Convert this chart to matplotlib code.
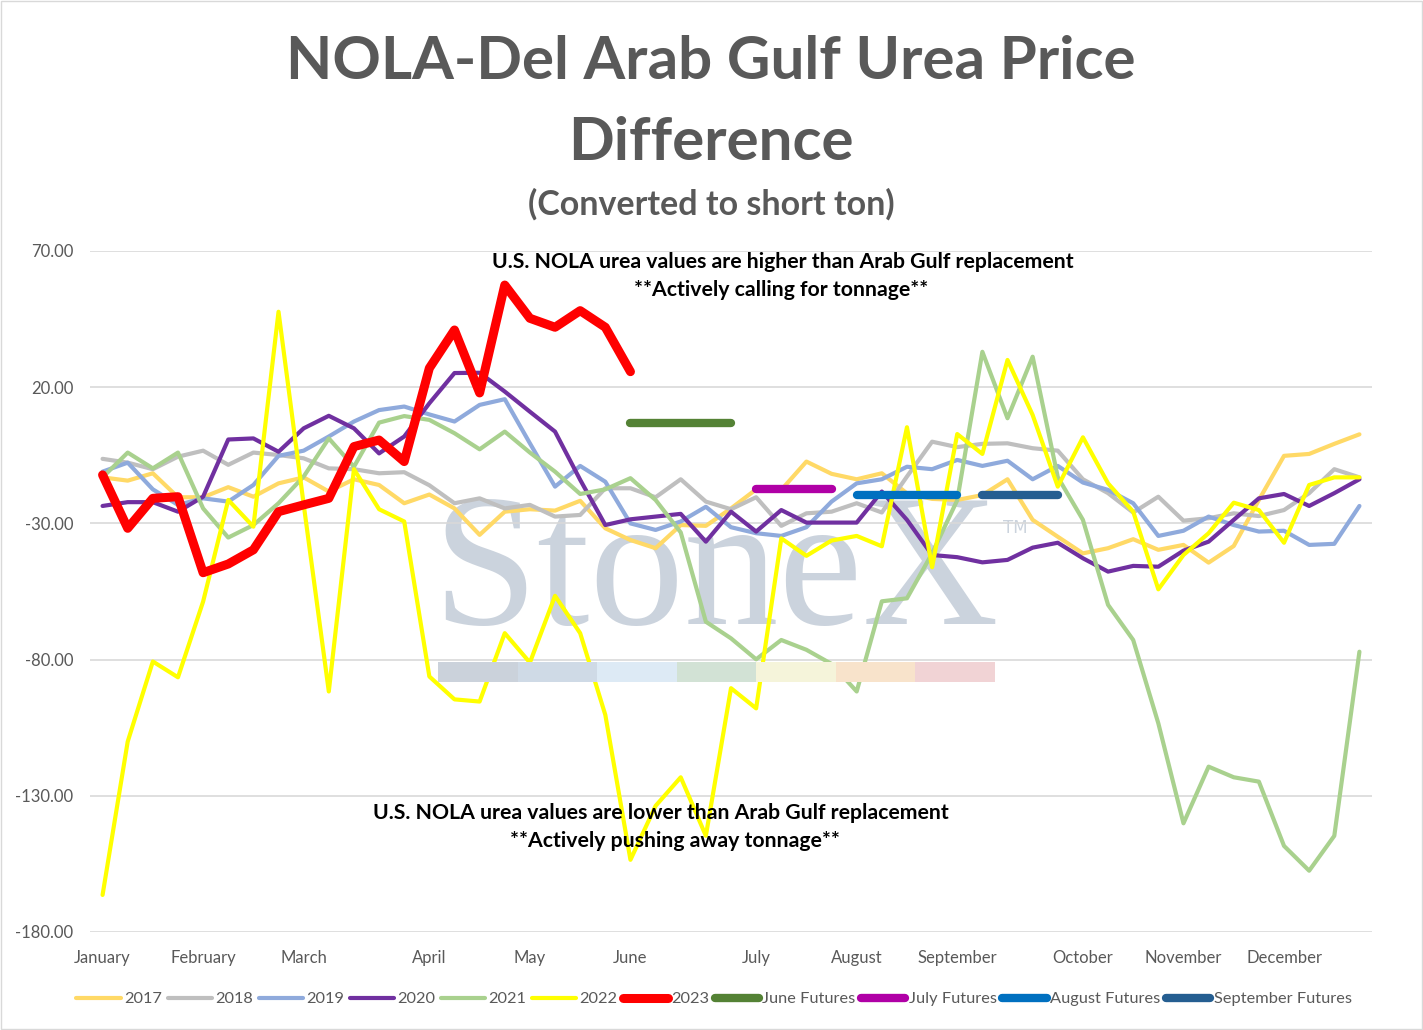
import matplotlib
matplotlib.use("Agg")
import matplotlib.pyplot as plt
from matplotlib.patches import Rectangle

W, H, DPI = 1423, 1030, 100
plt.rcParams['font.family'] = ['Lato', 'DejaVu Sans']

# ---------------- data ----------------
months = ["January", "February", "March", "April", "May", "June", "July",
          "August", "September", "October", "November", "December"]
month_weeks = [0, 4, 8, 13, 17, 21, 26, 30, 34, 39, 43, 47]
n_weeks = 51
y_ticks = [70, 20, -30, -80, -130, -180]

s2017 = [-13.1, -14.3, -11.6, -20.4, -20.4, -16.7, -20.2, -15.3, -13.1, -18.3,
         -13.8, -15.9, -22.6, -19.4, -24.5, -34.2, -25.7, -24.8, -25.3, -21.7,
         -31.8, -36.1, -39.1, -30.6, -30.9, -24.5, -17.5, -17.7, -7.3, -11.8,
         -13.8, -11.6, -19.0, -21.0, -21.4, -19.6, -13.8, -28.7, -34.9, -41.0,
         -39.1, -35.8, -39.7, -37.9, -44.4, -38.3, -21.4, -5.2, -4.5, -0.8, 2.7]
s2018 = [-6.3, -7.7, -10.1, -5.5, -3.3, -8.5, -4.0, -4.9, -6.1, -9.8,
         -10.1, -11.6, -11.2, -16.0, -22.6, -20.8, -24.5, -23.2, -27.5, -26.9,
         -17.1, -17.1, -20.4, -13.8, -22.0, -24.8, -20.4, -30.9, -26.3, -25.7,
         -22.6, -26.0, -12.8, 0.0, -2.0, -0.8, -0.6, -2.4, -3.3, -13.8,
         -18.9, -26.0, -20.2, -29.0, -28.1, -26.3, -27.3, -25.1, -18.9, -10.1, -13.1]
s2019 = [-11.0, -7.7, -17.5, -23.2, -20.8, -22.0, -15.9, -5.2, -3.3, 1.9,
         7.4, 11.6, 12.9, 10.0, 7.4, 13.5, 15.6, -0.6, -16.5, -8.9,
         -14.7, -30.0, -32.4, -29.3, -23.9, -31.4, -33.6, -34.6, -31.4, -22.0,
         -15.3, -13.8, -9.2, -10.1, -6.7, -8.9, -7.0, -13.8, -8.9, -15.0,
         -17.7, -22.6, -34.6, -32.7, -27.5, -30.6, -33.0, -32.7, -37.9, -37.5, -23.6]
s2020 = [-23.6, -22.2, -22.2, -25.7, -20.2, 0.8, 1.2, -3.7, 4.9, 9.5,
         4.9, -4.3, 1.9, 14.1, 25.2, 25.3, 18.4, 11.0, 3.7, -14.0,
         -30.6, -28.5, -27.5, -26.5, -36.7, -25.7, -33.0, -25.1, -29.7, -29.7,
         -29.7, -18.3, -28.7, -41.6, -42.4, -44.3, -43.4, -38.9, -37.1, -42.8,
         -47.7, -45.6, -45.9, -40.0, -36.7, -28.7, -20.8, -19.2, -23.6, -18.9, -13.8]
s2021 = [-13.1, -4.0, -9.8, -4.0, -24.5, -35.2, -30.6, -22.6, -12.8, 1.2,
         -9.2, 7.0, 9.4, 8.0, 3.1, -2.8, 3.7, -4.0, -11.0, -19.2,
         -17.5, -13.4, -21.4, -33.3, -66.1, -72.2, -79.9, -72.8, -76.4, -81.6,
         -91.7, -58.6, -57.5, -41.0, -21.5, 33.0, 8.6, 31.2, -13.0, -28.7,
         -59.9, -72.8, -103.4, -140.1, -119.3, -123.2, -124.8, -148.4, -157.5, -144.7, -77.1]
s2022 = [-166.4, -110.1, -80.7, -86.5, -58.7, -21.4, -31.2, 47.7, -23.0, -91.7,
         -10.1, -24.8, -29.3, -86.2, -94.6, -95.4, -70.3, -81.1, -56.6, -70.3,
         -100.3, -153.5, -133.7, -123.2, -144.7, -90.5, -97.9, -35.5, -41.9, -36.3,
         -34.6, -38.4, 5.3, -46.1, 2.8, -4.5, 30.0, 9.8, -16.5, 1.6,
         -15.3, -25.7, -54.2, -41.6, -33.6, -22.4, -25.1, -37.1, -15.9, -13.1, -13.1]
s2023 = [-12.2, -31.8, -20.8, -20.2, -48.1, -44.9, -39.7, -25.7, -23.2, -20.8,
         -1.8, 0.6, -7.3, 27.0, 41.0, 17.9, 57.5, 45.3, 42.0, 48.1,
         42.0, 25.7]

june_fut_weeks = [21, 22, 23, 24, 25]
june_fut = [6.8, 6.8, 6.8, 6.8, 6.8]
july_fut_weeks = [26, 27, 28, 29]
july_fut = [-17.5, -17.5, -17.5, -17.5]
aug_fut_weeks = [30, 31, 32, 33, 34]
aug_fut = [-19.6, -19.6, -19.6, -19.6, -19.6]
sep_fut_weeks = [35, 36, 37, 38]
sep_fut = [-19.6, -19.6, -19.6, -19.6]

# ---------------- figure ----------------
fig = plt.figure(figsize=(W / DPI, H / DPI), dpi=DPI)
fig.patch.set_facecolor('white')

def fx(px):
    return px / W

def fy(py):
    return 1 - py / H

ax = fig.add_axes([fx(90), fy(932), fx(1372) - fx(90), fy(251) - fy(932)])
ax.set_facecolor('none')
ax.set_xlim(-0.5, n_weeks - 0.5)
ax.set_ylim(-180, 70)

GRAY = '#595959'
for v in y_ticks:
    ax.axhline(v, color='#D9D9D9', lw=1.2, zorder=1)
for s in ax.spines.values():
    s.set_visible(False)
ax.set_yticks(y_ticks)
ax.set_yticklabels([f"{v:.2f}" for v in y_ticks])
ax.set_xticks(month_weeks)
ax.set_xticklabels(months)
ax.tick_params(axis='both', length=0, colors=GRAY, labelsize=12)
ax.tick_params(axis='y', pad=12)
ax.tick_params(axis='x', pad=13)

# ---------------- watermark ----------------
wm_color = '#CBD3DD'
ax.text(fx(432), fy(624), "StoneX", transform=fig.transFigure,
        fontsize=136, family='Liberation Serif', color=wm_color,
        ha='left', va='baseline', zorder=0.5)
ax.text(fx(1003), fy(533), "TM", transform=fig.transFigure,
        fontsize=12, family='DejaVu Sans', color=wm_color,
        ha='left', va='baseline', zorder=0.5)
bar_cols = ['#CBD2DB', '#CFDAE6', '#DDEAF5', '#D2E2D5', '#F5F4DA', '#F8E3CB', '#F1D3D5']
seg_w = (995 - 438) / len(bar_cols)
for k, c in enumerate(bar_cols):
    fig.patches.append(Rectangle((fx(438 + k * seg_w), fy(682)), fx(seg_w), fy(662) - fy(682),
                                 transform=fig.transFigure, facecolor=c, edgecolor='none',
                                 zorder=0.2))

# ---------------- series ----------------
weeks = list(range(n_weeks))
kw = dict(solid_capstyle='round', solid_joinstyle='round')
ax.plot(weeks, s2017, color='#FFD966', lw=3.0, label='2017', zorder=2, **kw)
ax.plot(weeks, s2018, color='#BFBFBF', lw=3.0, label='2018', zorder=2, **kw)
ax.plot(weeks, s2019, color='#8FAADC', lw=3.0, label='2019', zorder=2, **kw)
ax.plot(weeks, s2020, color='#7030A0', lw=3.0, label='2020', zorder=2, **kw)
ax.plot(weeks, s2021, color='#A9D18E', lw=3.0, label='2021', zorder=2, **kw)
ax.plot(weeks, s2022, color='#FFFF00', lw=3.0, label='2022', zorder=2, **kw)
ax.plot(weeks[:len(s2023)], s2023, color='#FF0000', lw=6.5, label='2023', zorder=3, **kw)
ax.plot(june_fut_weeks, june_fut, color='#548235', lw=6.0, label='June Futures', zorder=3, **kw)
ax.plot(july_fut_weeks, july_fut, color='#B000A6', lw=6.0, label='July Futures', zorder=3, **kw)
ax.plot(aug_fut_weeks, aug_fut, color='#0070C0', lw=6.0, label='August Futures', zorder=3, **kw)
ax.plot(sep_fut_weeks, sep_fut, color='#255E91', lw=6.0, label='September Futures', zorder=3, **kw)

# ---------------- texts ----------------
fig.text(fx(711), fy(62), "NOLA-Del Arab Gulf Urea Price", ha='center', va='center',
         fontsize=43.3, weight='bold', color=GRAY)
fig.text(fx(711), fy(143), "Difference", ha='center', va='center',
         fontsize=43.3, weight='bold', color=GRAY)
fig.text(fx(711), fy(204), "(Converted to short ton)", ha='center', va='center',
         fontsize=24.5, weight='bold', color=GRAY)

AF = 15.3
fig.text(fx(783), fy(262), "U.S. NOLA urea values are higher than Arab Gulf replacement",
         ha='center', va='center', fontsize=AF, weight='bold', color='black')
fig.text(fx(781), fy(290), "**Actively calling for tonnage**",
         ha='center', va='center', fontsize=AF, weight='bold', color='black')
fig.text(fx(661), fy(813), "U.S. NOLA urea values are lower than Arab Gulf replacement",
         ha='center', va='center', fontsize=AF, weight='bold', color='black')
fig.text(fx(675), fy(841), "**Actively pushing away tonnage**",
         ha='center', va='center', fontsize=AF, weight='bold', color='black')

# ---------------- legend ----------------
leg = ax.legend(loc='center', bbox_to_anchor=(fx(714), fy(999)), bbox_transform=fig.transFigure,
                ncol=11, frameon=False, fontsize=11.8, handlelength=2.7, handletextpad=0.2,
                columnspacing=0.35, borderpad=0, borderaxespad=0)
for t in leg.get_texts():
    t.set_color(GRAY)

# border
fig.patches.append(Rectangle((0.0005, 0.0007), 0.999, 0.9986, transform=fig.transFigure,
                             facecolor='none', edgecolor='#D9D9D9', lw=1.0))

fig.savefig('out.png', dpi=DPI)
